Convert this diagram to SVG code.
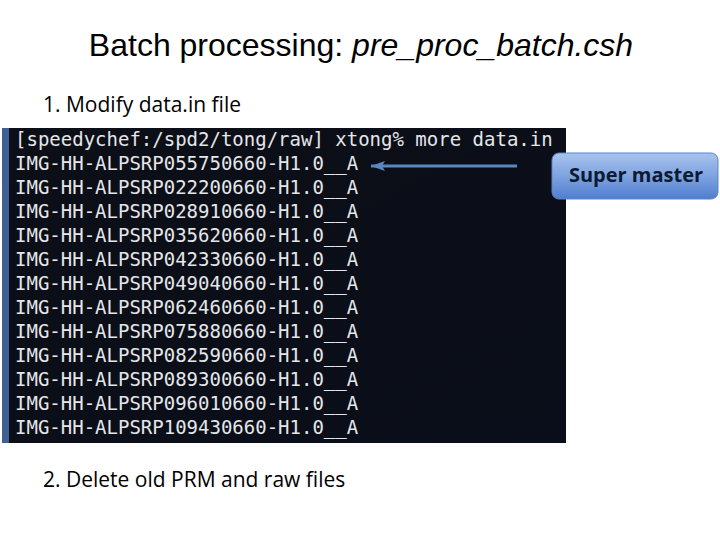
<svg xmlns="http://www.w3.org/2000/svg" width="720" height="540" viewBox="0 0 720 540">
<style>
.title{font-family:"Liberation Sans",Arial,sans-serif;font-size:32px;fill:#000}
.body{font-family:"Open Sans","Liberation Sans",sans-serif;font-size:21px;fill:#000}
.term{font-family:"DejaVu Sans Mono","Liberation Mono",monospace;font-size:19px;fill:#e4e6ea}
.lbl{font-family:"Open Sans","Liberation Sans",sans-serif;font-size:20px;font-weight:bold;fill:#0d1a33}
</style>
<defs>
<linearGradient id="term" x1="0" y1="0" x2="1" y2="1">
<stop offset="0" stop-color="#0c0f16"/>
<stop offset="1" stop-color="#0a0e1a"/>
</linearGradient>
<linearGradient id="sm" x1="0" y1="0" x2="0" y2="1">
<stop offset="0" stop-color="#a9c4ef"/>
<stop offset="0.5" stop-color="#7ea3e0"/>
<stop offset="1" stop-color="#4f7ed0"/>
</linearGradient>
<marker id="ah" markerWidth="16" markerHeight="12" refX="15" refY="6" orient="auto" markerUnits="userSpaceOnUse">
<path d="M1,1 L15,6 L1,11 L4,6 Z" fill="#5b87c0"/>
</marker>
</defs>
<rect width="720" height="540" fill="#fff"/>
<text class="title" x="361" y="56" text-anchor="middle">Batch processing: <tspan font-style="italic">pre_proc_batch.csh</tspan></text>
<text class="body" x="43" y="112">1. Modify data.in file</text>
<g id="terminal">
<rect x="2" y="128" width="564" height="315" fill="url(#term)"/>
<rect x="2" y="128" width="7" height="315" fill="#3f5f95"/>
<g class="term">
<text x="15" y="146">[speedychef:/spd2/tong/raw] xtong% more data.in</text>
<text x="15" y="170">IMG-HH-ALPSRP055750660-H1.0__A</text>
<text x="15" y="194">IMG-HH-ALPSRP022200660-H1.0__A</text>
<text x="15" y="218">IMG-HH-ALPSRP028910660-H1.0__A</text>
<text x="15" y="242">IMG-HH-ALPSRP035620660-H1.0__A</text>
<text x="15" y="266">IMG-HH-ALPSRP042330660-H1.0__A</text>
<text x="15" y="290">IMG-HH-ALPSRP049040660-H1.0__A</text>
<text x="15" y="314">IMG-HH-ALPSRP062460660-H1.0__A</text>
<text x="15" y="338">IMG-HH-ALPSRP075880660-H1.0__A</text>
<text x="15" y="362">IMG-HH-ALPSRP082590660-H1.0__A</text>
<text x="15" y="386">IMG-HH-ALPSRP089300660-H1.0__A</text>
<text x="15" y="410">IMG-HH-ALPSRP096010660-H1.0__A</text>
<text x="15" y="434">IMG-HH-ALPSRP109430660-H1.0__A</text>
</g>
</g>
<g id="connectors">
<line x1="517" y1="166" x2="371" y2="166" stroke="#5b87c0" stroke-width="3" marker-end="url(#ah)"/>
</g>
<g id="super-master">
<rect x="552" y="153" width="166" height="46" rx="7" fill="url(#sm)" stroke="#5a86c8" stroke-width="1"/>
<text class="lbl" x="636" y="182" text-anchor="middle">Super master</text>
</g>
<text class="body" x="43" y="487">2. Delete old PRM and raw files</text>
</svg>
